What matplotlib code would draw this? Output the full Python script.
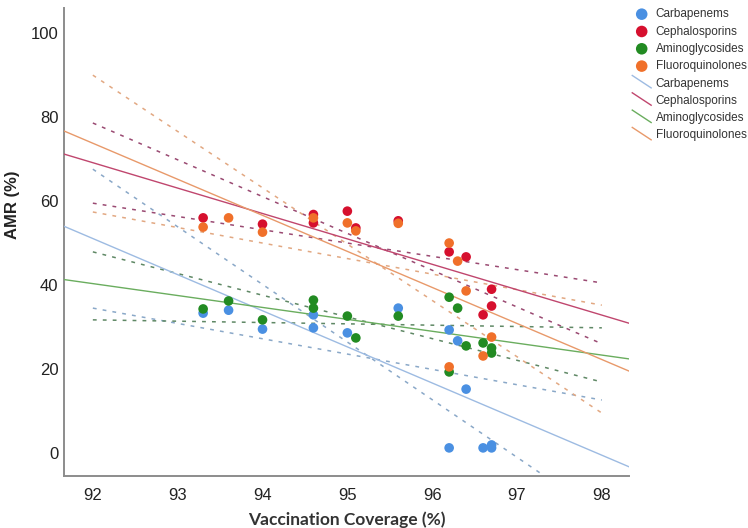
import numpy as np
import matplotlib
matplotlib.use("Agg")
import matplotlib.pyplot as plt
from matplotlib.lines import Line2D
from matplotlib.legend_handler import HandlerBase

# scatter data (vaccination coverage %, AMR %)
carb_x = [93.3, 93.6, 94.0, 94.6, 94.6, 95.0, 95.6, 96.2, 96.2, 96.3, 96.4, 96.6, 96.7, 96.7]
carb_y = [33.3, 34.0, 29.5, 32.9, 29.8, 28.6, 34.5, 29.3, 1.2, 26.7, 15.2, 1.2, 1.9, 1.2]

ceph_x = [93.3, 94.0, 94.6, 94.6, 95.0, 95.1, 95.6, 96.2, 96.4, 96.6, 96.7, 96.7]
ceph_y = [56.0, 54.5, 56.8, 54.8, 57.6, 53.6, 55.3, 47.9, 46.7, 32.9, 39.0, 35.0]

amino_x = [93.3, 93.6, 94.0, 94.6, 94.6, 95.0, 95.1, 95.6, 96.2, 96.2, 96.3, 96.4, 96.6, 96.7, 96.7]
amino_y = [34.3, 36.2, 31.7, 36.4, 34.5, 32.6, 27.4, 32.6, 37.1, 19.3, 34.5, 25.5, 26.2, 25.0, 23.8]

fluoro_x = [93.3, 93.6, 94.0, 94.6, 95.0, 95.1, 95.6, 96.2, 96.3, 96.4, 96.7, 96.6, 96.2]
fluoro_y = [53.8, 56.0, 52.6, 56.0, 54.8, 52.9, 54.7, 50.0, 45.7, 38.6, 27.6, 23.1, 20.5]

names = ["Carbapenems", "Cephalosporins", "Aminoglycosides", "Fluoroquinolones"]

# fit lines (start / end values)
fit_x = [91.66, 98.32]
fit_y = {
    "Carbapenems": [54.0, -3.3],
    "Cephalosporins": [71.2, 30.9],
    "Aminoglycosides": [41.3, 22.4],
    "Fluoroquinolones": [76.7, 19.5],
}
# dashed lines: (x0, x1, y0, y1)
dash_lines = {
    "Carbapenems": [(92.0, 97.31, 67.6, -5.3), (92.0, 98.0, 34.5, 12.6)],
    "Cephalosporins": [(92.0, 98.0, 78.6, 26.0), (92.0, 98.0, 59.5, 40.5)],
    "Aminoglycosides": [(92.0, 98.0, 47.9, 16.9), (92.0, 98.0, 31.7, 29.8)],
    "Fluoroquinolones": [(92.0, 98.0, 90.0, 9.5), (92.0, 98.0, 57.4, 35.2)],
}

pt_col = {"Carbapenems": "#4a90e2", "Cephalosporins": "#d6102e",
          "Aminoglycosides": "#228b22", "Fluoroquinolones": "#f0702a"}
ln_col = {"Carbapenems": "#9dbbe2", "Cephalosporins": "#c0466e",
          "Aminoglycosides": "#6aad5e", "Fluoroquinolones": "#e8996a"}
ds_col = {"Carbapenems": "#8aa8c8", "Cephalosporins": "#9a4a72",
          "Aminoglycosides": "#5f8865", "Fluoroquinolones": "#e2a882"}

xs = {"Carbapenems": (carb_x, carb_y), "Cephalosporins": (ceph_x, ceph_y),
      "Aminoglycosides": (amino_x, amino_y), "Fluoroquinolones": (fluoro_x, fluoro_y)}


class DiagHandler(HandlerBase):
    def create_artists(self, legend, orig_handle, xdescent, ydescent,
                       width, height, fontsize, trans):
        l = Line2D([0, width], [height + 2, -1], color=orig_handle.get_color(),
                   lw=orig_handle.get_linewidth())
        l.set_transform(trans)
        return [l]


plt.rcParams['font.family'] = ['Liberation Sans', 'DejaVu Sans']

fig = plt.figure(figsize=(7.48, 5.28), dpi=100)
ax = fig.add_axes([64 / 748, 52 / 528, 565 / 748, 468 / 528])

handles_pts = []
handles_ln = []
for n in names:
    for (x0, x1, y0, y1) in dash_lines[n]:
        ax.plot([x0, x1], [y0, y1], color=ds_col[n], lw=1.1,
                linestyle=(0, (2.5, 4)), zorder=2)
for n in names:
    l, = ax.plot(fit_x, fit_y[n], color=ln_col[n], lw=1.0, zorder=3)
    handles_ln.append(l)
for n in names:
    x, y = xs[n]
    s = ax.scatter(x, y, s=48, color=pt_col[n], edgecolors='none', zorder=4)
    handles_pts.append(s)

ax.set_xlim(91.66, 98.32)
ax.set_ylim(-5.5, 106)
ax.set_xticks([92, 93, 94, 95, 96, 97, 98])
ax.set_yticks([0, 20, 40, 60, 80, 100])
ax.tick_params(length=0, labelsize=12, colors='#222222')
ax.tick_params(axis='x', pad=9)
ax.tick_params(axis='y', pad=4)
for side in ['top', 'right']:
    ax.spines[side].set_visible(False)
for side in ['left', 'bottom']:
    ax.spines[side].set_color('#8c8c8c')
    ax.spines[side].set_linewidth(1.4)

ax.set_xlabel('Vaccination Coverage (%)', fontsize=12.5, fontweight='bold',
              family=['Lato', 'DejaVu Sans'], color='#333333', va='center')
ax.xaxis.set_label_coords(0.5, -0.094)
ax.set_ylabel('AMR (%)', fontsize=12, fontweight='bold', color='#222222')
ax.yaxis.set_label_coords(-0.078, 0.58)

hmap = {h: DiagHandler() for h in handles_ln}
leg = fig.legend(handles_pts + handles_ln, names + names,
                 loc='upper left', bbox_to_anchor=(624 / 748, 1.0),
                 frameon=False, fontsize=8.5, handler_map=hmap,
                 handlelength=1.6, handletextpad=0.4, labelspacing=0.45,
                 markerscale=1.2, borderaxespad=0.3)
for t in leg.get_texts():
    t.set_color('#333333')

fig.savefig('out.png', dpi=100)
